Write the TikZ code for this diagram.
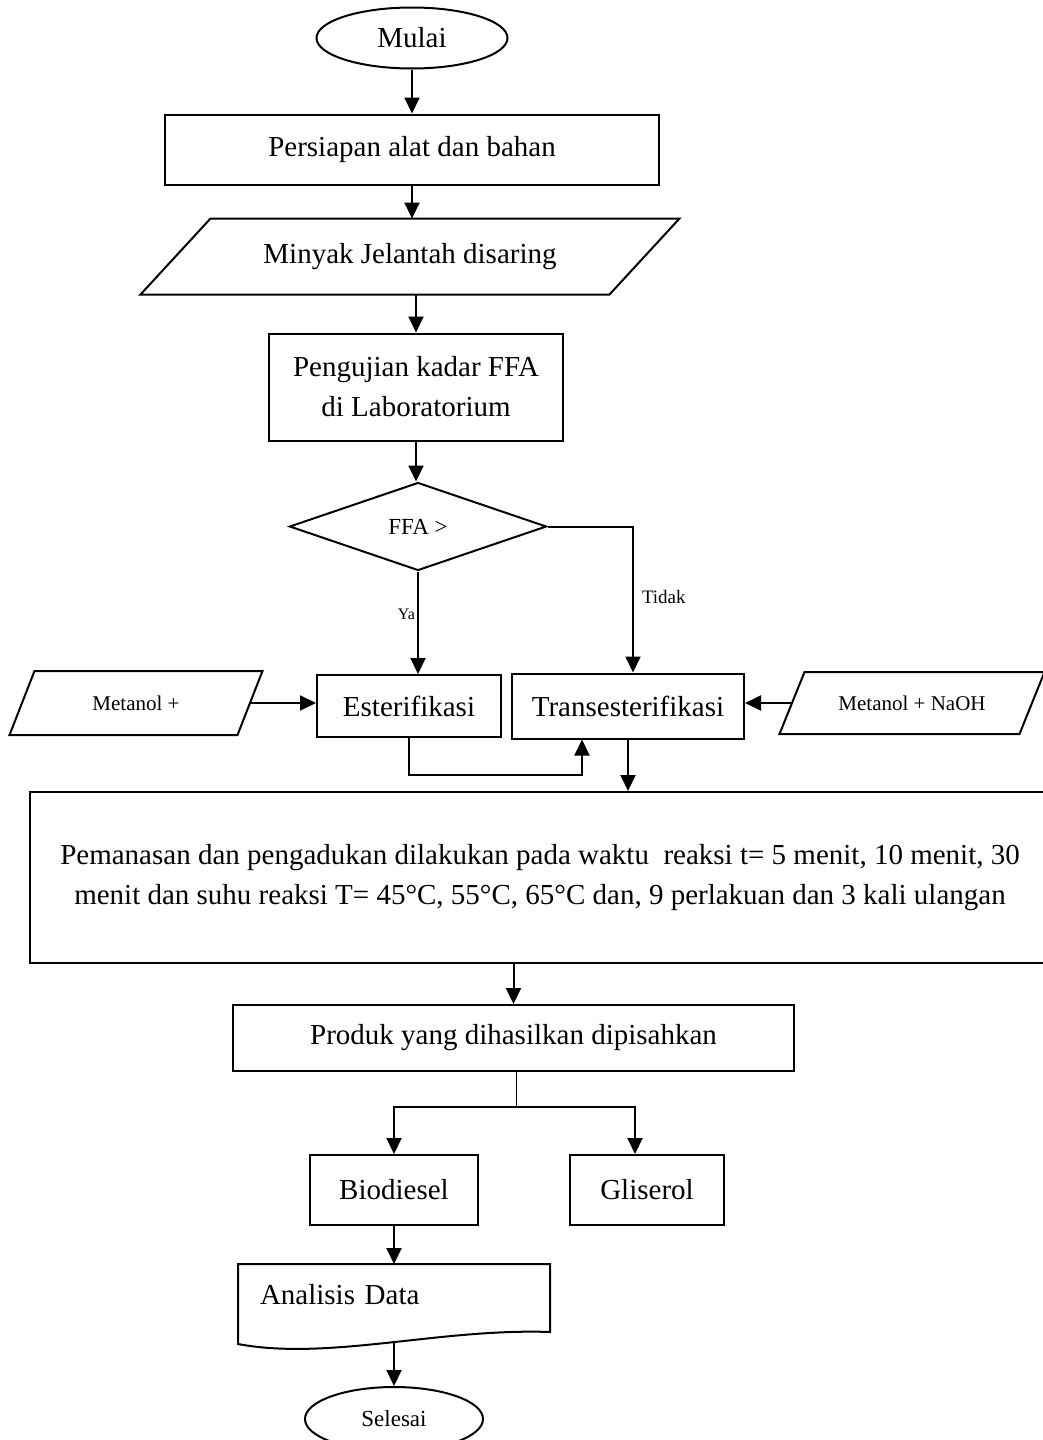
\documentclass[tikz,border=0pt]{standalone}
\usepackage{fontspec}
\setmainfont{Liberation Serif}
\usetikzlibrary{arrows.meta,positioning,calc,shapes.geometric}

% jajaran genjang di sekeliling node
\newcommand{\jajar}[2]{%
  \draw[line width=2pt] ([xshift=-#2/2]#1.south west) -- ([xshift=-#2/2]#1.south east)
    -- ([xshift=#2/2]#1.north east) -- ([xshift=#2/2]#1.north west) -- cycle;}

\begin{document}
\begin{tikzpicture}[
    x=1pt, y=1pt,
    line join=miter,
    >={Triangle[length=16pt,width=15pt]},
    base/.style={
        draw,
        line width=2pt,
        inner sep=0pt,
        align=center,
        font=\fontsize{29}{40}\selectfont
    },
    proses/.style={base,rectangle},
    terminal/.style={base,ellipse},
    keputusan/.style={base,diamond,font=\fontsize{23}{28}\selectfont},
    io/.style={base,draw=none,font=\fontsize{21}{25}\selectfont},
    arrow/.style={->,line width=2pt},
    thinline/.style={line width=1.3pt},
    lbl/.style={font=\fontsize{#1}{#1}\selectfont}
]
\useasboundingbox (0,0) rectangle (1042,-1440);

% kolom utama
\node[terminal,minimum width=191pt,minimum height=61pt] (mulai) at (412,-38) {Mulai};
\node[proses,minimum width=494pt,minimum height=70pt,below=44pt of mulai] (persiapan) {Persiapan alat dan bahan};
\node[io,minimum width=467pt,minimum height=74pt,font=\fontsize{29}{40}\selectfont,
    below=33pt of persiapan,xshift=-2pt] (minyak) {Minyak Jelantah disaring};
\jajar{minyak}{70pt}
\node[proses,minimum width=294pt,minimum height=107pt,below=38pt of minyak,xshift=6pt] (pengujian) {Pengujian kadar FFA\\ di Laboratorium};
\node[keputusan,minimum width=257pt,minimum height=88pt,below=40pt of pengujian,xshift=2pt] (ffa) {FFA >};

% reaksi
\node[proses,minimum width=184pt,minimum height=62pt] (ester) at (409,-706) {Esterifikasi};
\node[proses,minimum width=232pt,minimum height=65pt,right=9pt of ester] (trans) {Transesterifikasi};
\node[io,minimum width=226pt,minimum height=62pt,left=66pt of ester,yshift=3pt] (metanol) {Metanol +};
\jajar{metanol}{25pt}
\node[io,minimum width=238pt,minimum height=60pt,right=47pt of trans,yshift=3pt] (naoh) {Metanol + NaOH};
\jajar{naoh}{25pt}

\node[proses,minimum width=1020pt,minimum height=171pt] (pemanasan) at (540,-877.5)
    {Pemanasan dan pengadukan dilakukan pada waktu~ reaksi t= 5 menit, 10 menit, 30\\
     menit dan suhu reaksi T= 45°C, 55°C, 65°C dan, 9 perlakuan dan 3 kali ulangan};

% hasil
\node[proses,minimum width=561pt,minimum height=66pt] (produk) at (513.5,-1038) {Produk yang dihasilkan dipisahkan};
\node[proses,minimum width=168pt,minimum height=70pt] (biodiesel) at (394,-1190) {Biodiesel};
\node[proses,minimum width=154pt,minimum height=70pt,right=90pt of biodiesel] (gliserol) {Gliserol};
\node[base,draw=none,text width=268pt,inner xsep=21pt,minimum height=60pt,align=left,
    below=38pt of biodiesel] (analisis) {Analisis Data};
\draw[line width=2pt] (analisis.north west) -- (analisis.north east) -- ([yshift=-6pt]analisis.south east)
    .. controls ([xshift=-110pt,yshift=-2pt]analisis.south east) and ([xshift=90pt,yshift=-35pt]analisis.south west)
    .. ([yshift=-18pt]analisis.south west) -- cycle;
\node[terminal,minimum width=178pt,minimum height=64pt,font=\fontsize{23}{28}\selectfont,
    below=60pt of analisis] (selesai) {Selesai};

% panah
\draw[arrow] (mulai) -- (persiapan);
\draw[arrow] (persiapan.south) -- (persiapan.south |- minyak.north);
\draw[arrow] (pengujian.north |- minyak.south) -- (pengujian.north);
\draw[arrow] (pengujian.south) -- (pengujian.south |- ffa.north);
\draw[arrow] (ffa.south) -- node[left,pos=0.42,lbl=16,inner sep=2pt] {Ya} (ffa.south |- ester.north);
\draw[arrow] (ffa.east) -| node[right,pos=0.74,lbl=19,inner sep=8pt] {Tidak} ([xshift=5pt]trans.north);
\draw[arrow] (metanol.east) -- (metanol.east -| ester.west);
\draw[arrow] (naoh.west) -- (naoh.west -| trans.east);
\draw[arrow] (ester.south) -- ++(0,-37) -| ([xshift=-46pt]trans.south);
\draw[arrow] (trans.south) -- (trans.south |- pemanasan.north);
\draw[arrow] (produk.north |- pemanasan.south) -- (produk.north);
\draw[thinline] ([xshift=3pt]produk.south) -- ++(0,-35) coordinate (bagi);
\draw[arrow] (bagi) -| (biodiesel.north);
\draw[arrow] (bagi) -| ([xshift=-12pt]gliserol.north);
\draw[arrow] (biodiesel.south) -- (biodiesel.south |- analisis.north);
\draw[arrow] ([yshift=-17pt]analisis.south) -- (selesai.north);

\end{tikzpicture}
\end{document}
